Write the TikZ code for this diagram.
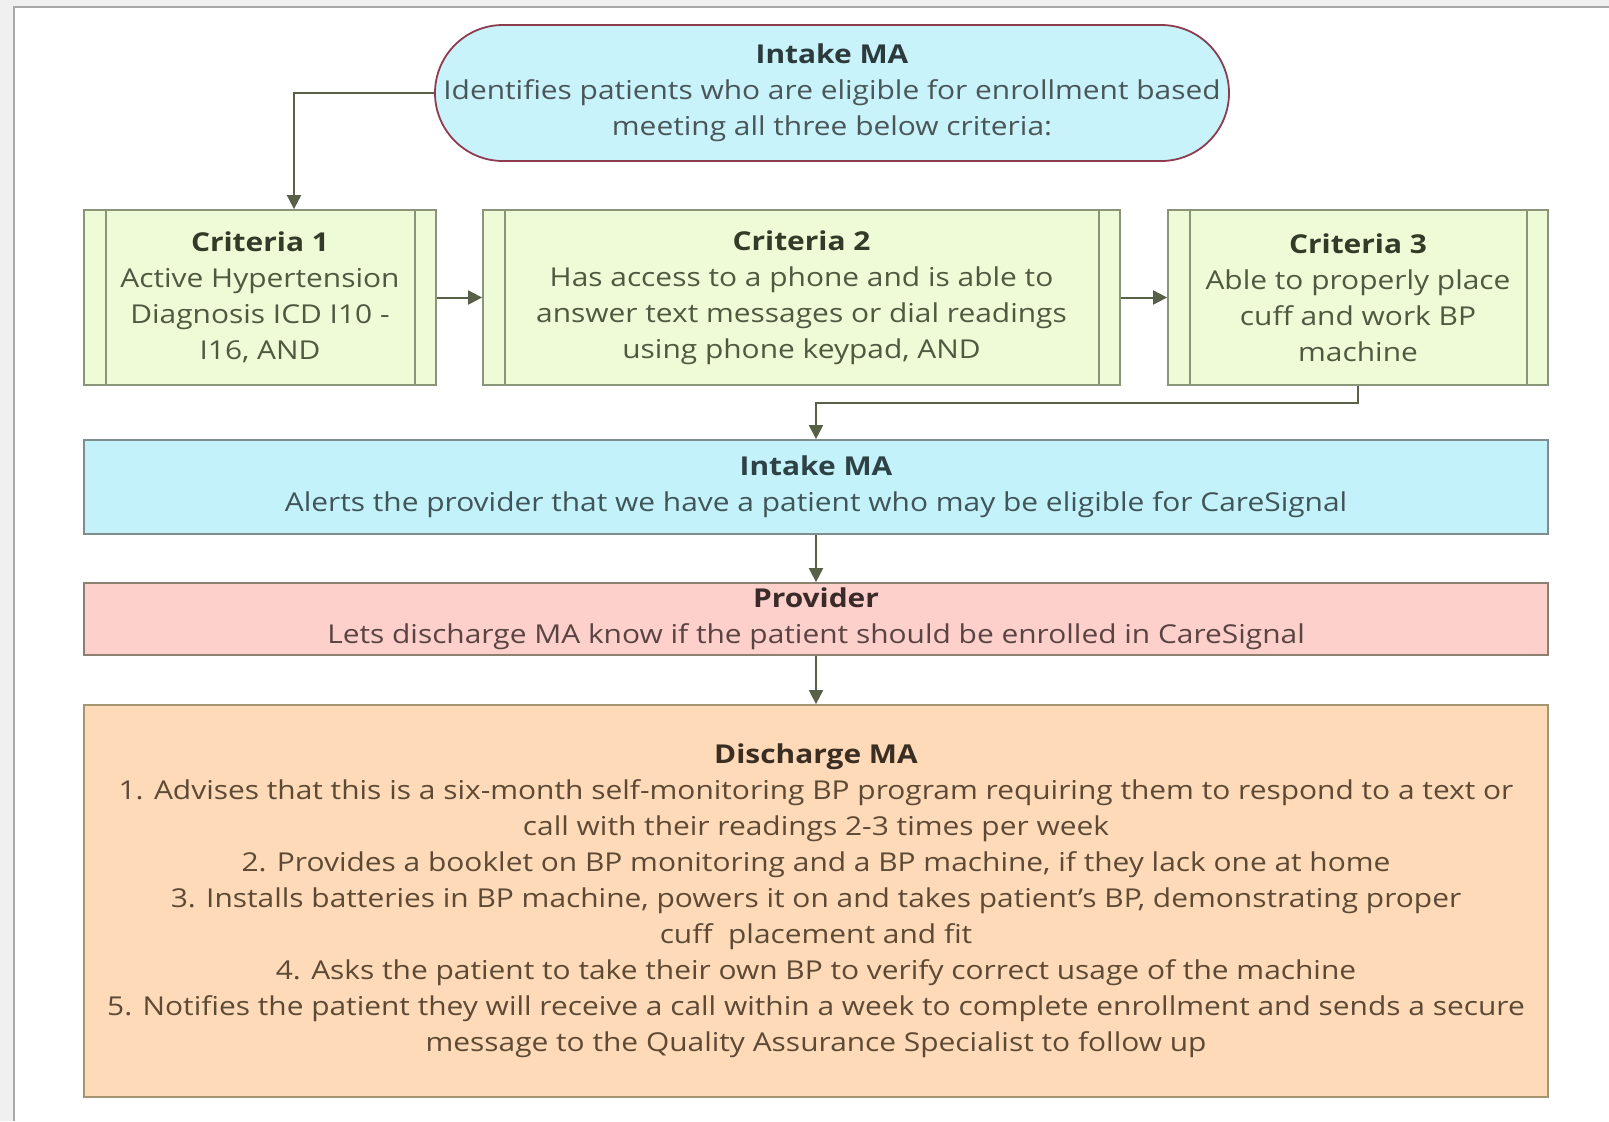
\documentclass[tikz,border=0pt]{standalone}
\usepackage{fontspec}
\setmainfont{Open Sans}[FakeStretch=1.15]
\usetikzlibrary{arrows.meta,calc}
\definecolor{bgout}{HTML}{F0F0F0}
\definecolor{framec}{HTML}{A8A8A8}
\definecolor{stfill}{HTML}{C8F3FB}
\definecolor{stdraw}{HTML}{8E3B4E}
\definecolor{sthead}{HTML}{2C3A3C}
\definecolor{sttext}{HTML}{4A5658}
\definecolor{crfill}{HTML}{EFFAD6}
\definecolor{crdraw}{HTML}{8A9478}
\definecolor{crhead}{HTML}{333A28}
\definecolor{crtext}{HTML}{4F5940}
\definecolor{infill}{HTML}{C4F2FB}
\definecolor{indraw}{HTML}{7E8E8E}
\definecolor{inhead}{HTML}{2E4246}
\definecolor{intext}{HTML}{3F5558}
\definecolor{prfill}{HTML}{FDD0CC}
\definecolor{prdraw}{HTML}{8C8070}
\definecolor{prhead}{HTML}{3A2A28}
\definecolor{prtext}{HTML}{5A4442}
\definecolor{dsfill}{HTML}{FEDAB8}
\definecolor{dsdraw}{HTML}{A49670}
\definecolor{dshead}{HTML}{3A2E22}
\definecolor{dstext}{HTML}{5C4A35}
\definecolor{arrc}{HTML}{596048}
\tikzset{
  basebox/.style={align=center, inner sep=0pt, line width=0.9pt,
    font={\fontsize{13}{18}\selectfont}},
  stadbox/.style={basebox, fill=stfill, draw=stdraw, text=sttext,
    minimum width=397pt, minimum height=68pt, rounded corners=34pt},
  critbox/.style={basebox, fill=crfill, draw=crdraw, text=crtext,
    minimum height=87.5pt},
  intakebox/.style={basebox, fill=infill, draw=indraw, text=intext,
    minimum width=732pt, minimum height=47pt},
  provbox/.style={basebox, fill=prfill, draw=prdraw, text=prtext,
    minimum width=732pt, minimum height=36pt},
  dischbox/.style={basebox, fill=dsfill, draw=dsdraw, text=dstext,
    minimum width=732pt, minimum height=196pt},
  arr/.style={draw=arrc, line width=1pt, -{Triangle[width=7pt,length=7pt]}},
  innerline/.style={draw=crdraw, line width=0.9pt}
}
\begin{document}
\begin{tikzpicture}[x=0.5pt,y=-0.5pt]
\useasboundingbox (0,0) rectangle (1609,1121);
\fill[bgout] (0,0) rectangle (1609,1121);
\fill[white] (14,7) rectangle (1609,1121);
\draw[framec,line width=1.2pt] (14,1121) -- (14,7) -- (1609,7);

\node[stadbox] (stad) at (832,93)
  {{\color{sthead}\bfseries Intake MA}\\
   Identifies patients who are eligible for enrollment based\\
   meeting all three below criteria:};

\node[critbox, minimum width=176pt] (c1) at (260,297.5)
  {{\color{crhead}\bfseries Criteria 1}\\
   Active Hypertension\\ Diagnosis ICD I10 -\\ I16, AND};
\node[critbox, minimum width=318.5pt] (c2) at (801.5,297.5)
  {{\color{crhead}\bfseries Criteria 2}\\
   Has access to a phone and is able to\\
   answer text messages or dial readings\\
   using phone keypad, AND};
\node[critbox, minimum width=190pt] (c3) at (1358,297.5)
  {{\color{crhead}\bfseries Criteria 3}\\
   Able to properly place\\ cuff and work BP\\ machine};
\foreach \n in {c1,c2,c3}{
  \draw[innerline] ([xshift=11.5pt]\n.north west) -- ([xshift=11.5pt]\n.south west);
  \draw[innerline] ([xshift=-11pt]\n.north east) -- ([xshift=-11pt]\n.south east);
}

\node[intakebox] (intake) at (816,487)
  {{\color{inhead}\bfseries Intake MA}\\
   Alerts the provider that we have a patient who may be eligible for CareSignal};
\node[provbox] (prov) at (816,619)
  {{\color{prhead}\bfseries Provider}\\
   Lets discharge MA know if the patient should be enrolled in CareSignal};
\node[dischbox] (disch) at (816,901)
  {{\color{dshead}\bfseries Discharge MA}\\
   1. Advises that this is a six-month self-monitoring BP program requiring them to respond to a text or\\
   call with their readings 2-3 times per week\\
   2. Provides a booklet on BP monitoring and a BP machine, if they lack one at home\\
   3. Installs batteries in BP machine, powers it on and takes patient’s BP, demonstrating proper\\
   cuff\ \ placement and fit\\
   4. Asks the patient to take their own BP to verify correct usage of the machine\\
   5. Notifies the patient they will receive a call within a week to complete enrollment and sends a secure\\
   message to the Quality Assurance Specialist to follow up};

\draw[arr] (stad.west) -| ([xshift=17pt]c1.north);
\draw[arr] (c1.east) -- (c2.west);
\draw[arr] (c2.east) -- (c3.west);
\draw[arr] (c3.south) -- ++(0,17) -| (intake.north);
\draw[arr] (intake.south) -- (prov.north);
\draw[arr] (prov.south) -- (disch.north);
\end{tikzpicture}
\end{document}
